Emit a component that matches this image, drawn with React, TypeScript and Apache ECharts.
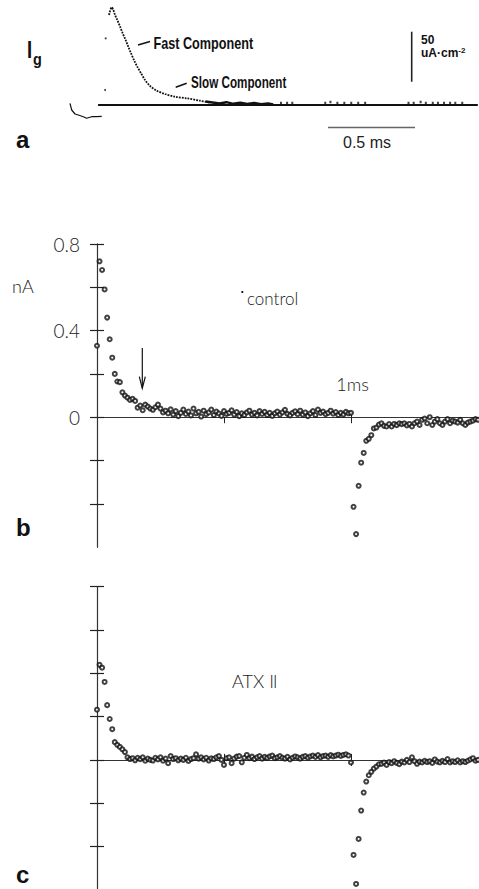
import React, { useEffect, useRef } from "react";
import * as echarts from "echarts";

// ---------- Panel a: gating current trace (t in ms, I in uA/cm2) ----------
const aPreT = [-0.202, -0.192, -0.173, -0.154, -0.125, -0.106, -0.077, -0.048, -0.019];
const aPreI = [1.7, -5, -9, -10, -11.7, -13.3, -11.7, -11.7, -11.3];
const aRiseT = [0.0, 0.004];
const aRiseI = [15, 66.7];
const aDecayT = [0.023, 0.039, 0.048, 0.058, 0.071, 0.087, 0.102, 0.119, 0.134, 0.15, 0.167, 0.186, 0.208, 0.231, 0.26, 0.298, 0.346, 0.404, 0.471, 0.548, 0.606];
const aDecayI = [90, 97.7, 95, 90, 85, 78.3, 71.7, 65, 58.3, 51.7, 45, 38.3, 31.7, 25, 19, 14.3, 11, 8.3, 6.7, 4.3, 2.3];
const aNoiseT = [0.58, 0.62, 0.66, 0.7, 0.74, 0.78, 0.82, 0.86, 0.9, 0.94, 0.97];
const aNoiseI = [3.5, 2.5, 1.5, 2.8, 1.2, 2.4, 1.0, 2.0, 0.8, 1.6, 0.5];
const aBumpT = [1.015, 1.05, 1.08, 1.27, 1.3, 1.34, 1.38, 1.42, 1.46, 1.5, 1.75, 1.78, 1.82, 1.85, 1.89, 1.92, 1.955, 1.99, 2.02, 2.06];
const aBumpI = [2, 2, 2, 2, 3, 2, 2, 2, 2, 2, 2, 2, 3, 2, 2, 2, 2, 2, 2, 2];
const aBaselineT = [-0.04, 2.15];
const aBaselineI = [0, 0];

// ---------- Panels b and c: sampled every 0.01 ms from 0 to 1.5 ms (nA) ----------
const SAMPLE_MS = 0.01;
const controlValues = [
  0.33, 0.72, 0.68, 0.59, 0.46, 0.36, 0.275, 0.2, 0.165, 0.162,
  0.115, 0.1, 0.09, 0.08, 0.085, 0.075, 0.044, 0.054, 0.032, 0.058,
  0.049, 0.04, 0.034, 0.046, 0.058, 0.04, 0.022, 0.03, 0.018, 0.036,
  0.012, 0.028, 0.005, 0.02, 0.035, 0.015, 0.026, 0.008, 0.04, 0.018,
  0.025, 0.003, 0.03, 0.014, 0.022, 0.035, 0.01, 0.026, 0.017, 0.006,
  0.028, 0.015, 0.02, 0.032, 0.012, 0.024, 0.005, 0.018, 0.01, 0.022,
  0.03, 0.012, 0.02, 0.008, 0.028, 0.015, 0.025, 0.01, 0.02, 0.006,
  0.018, 0.026, 0.012, 0.022, 0.034, 0.015, 0.008, 0.02, 0.027, 0.014,
  0.03, 0.012, 0.022, 0.005, 0.018, 0.028, 0.01, 0.035, 0.02, 0.026,
  0.014, 0.02, 0.03, 0.016, 0.024, 0.01, 0.02, 0.012, 0.025, 0.018,
  0.02, -0.414, -0.54, -0.317, -0.21, -0.165, -0.109, -0.1, -0.083, -0.052,
  -0.048, -0.034, -0.028, -0.04, -0.043, -0.032, -0.043, -0.031, -0.037, -0.028,
  -0.032, -0.028, -0.038, -0.031, -0.043, -0.028, -0.02, -0.036, -0.012, -0.006,
  -0.028, 0.0, -0.036, -0.02, -0.009, -0.028, -0.036, -0.02, -0.009, -0.028,
  -0.016, -0.02, -0.025, -0.012, -0.028, -0.036, -0.025, -0.02, -0.016, -0.009,
  -0.012,
];
const atxValues = [
  0.232, 0.439, 0.426, 0.36, 0.253, 0.189, 0.142, 0.082, 0.069, 0.06,
  0.049, 0.036, 0.012, 0.004, 0.008, -0.002, 0.01, 0.003, 0.012, -0.004,
  0.006, 0.0, -0.003, 0.01, 0.002, 0.012, -0.004, 0.006, -0.015, 0.018,
  0.004, 0.008, -0.002, 0.006, 0.0, 0.01, -0.005, 0.004, 0.008, 0.026,
  0.006, 0.012, 0.002, 0.01, -0.003, 0.007, 0.004, 0.012, 0.018, 0.0,
  -0.023, 0.008, 0.012, -0.015, 0.006, 0.015, 0.018, -0.011, 0.01, 0.023,
  0.008, 0.015, 0.004, 0.012, 0.018, 0.006, 0.014, 0.009, 0.016, 0.02,
  0.008, 0.012, 0.018, 0.01, 0.006, 0.014, 0.002, 0.01, 0.016, 0.012,
  0.006, 0.014, 0.018, 0.01, 0.016, 0.02, 0.014, 0.022, 0.012, 0.018,
  0.02, 0.014, 0.022, 0.016, 0.02, 0.024, 0.018, 0.023, 0.026, 0.02,
  -0.012, -0.439, -0.573, -0.365, -0.234, -0.151, -0.1, -0.071, -0.055, -0.04,
  -0.031, -0.02, -0.018, -0.012, -0.023, -0.01, -0.015, -0.006, -0.014, -0.02,
  -0.008, -0.012, 0.0, -0.01, 0.012, -0.006, -0.018, -0.008, -0.012, -0.004,
  -0.01, -0.006, -0.014, 0.002, -0.008, -0.012, -0.004, -0.01, 0.004, -0.012,
  -0.006, -0.01, -0.002, -0.012, -0.006, -0.01, -0.004, 0.002, 0.008, -0.004,
  0.0,
];

const yTickValues = [-0.4, -0.2, 0, 0.2, 0.4, 0.6, 0.8];
const yLabelValues = [0, 0.4, 0.8];
const xTickDownB = [0.5, 1.0];
const xTickUpB = [1.0];
const xTickDownC = [0.5, 1.0];
const xTickUpC = [0.5, 1.0];

const INK = "#111111";
const LABEL_INK = "#1a1a1a";
const BOLD16 = "bold 16px 'Liberation Sans', Arial, sans-serif";

const pairs = (xs: number[], ys: number[]) => xs.map((x, i) => [x, ys[i]]);
const sampled = (vals: number[]) => vals.map((v, i) => [Math.round(i * SAMPLE_MS * 1000) / 1000, v]);

function valueAxes(gridIndex: number, yTicks: number[], withLabels: boolean, xDown: number[], xUp: number[]) {
  const xBase = {
    type: "value",
    gridIndex,
    min: 0,
    max: 1.5,
    axisLabel: { show: false },
    splitLine: { show: false },
    axisLine: { show: true, onZero: true, lineStyle: { color: "#333", width: 1 } },
  };
  const yBase = {
    type: "value",
    gridIndex,
    min: -0.6,
    max: 0.8,
    interval: 0.2,
    splitLine: { show: false },
    axisLine: { show: true, onZero: true, lineStyle: { color: "#333", width: 1.1 } },
  };
  return {
    x: [
      { ...xBase, position: "bottom", axisTick: { show: true, length: 6, inside: false, customValues: xDown, lineStyle: { color: "#222", width: 1 } } },
      { ...xBase, position: "top", axisTick: { show: true, length: 6, inside: false, customValues: xUp, lineStyle: { color: "#222", width: 1 } } },
    ],
    y: [
      {
        ...yBase,
        position: "left",
        axisTick: { show: true, length: 7, inside: false, customValues: yTicks, lineStyle: { color: "#222", width: 1.2 } },
        axisLabel: withLabels
          ? {
              show: true,
              margin: 17,
              customValues: yLabelValues,
              color: LABEL_INK,
              fontFamily: "Lato, 'DejaVu Sans', sans-serif",
              fontWeight: 300,
              fontSize: 19,
              formatter: (v: number) => (v === 0 ? "0" : v.toFixed(1)),
            }
          : { show: false },
      },
      {
        ...yBase,
        position: "right",
        axisTick: { show: true, length: 7, inside: false, customValues: yTicks, lineStyle: { color: "#222", width: 1.2 } },
        axisLabel: { show: false },
      },
    ],
  };
}

export default function App() {
  const ref = useRef<HTMLDivElement>(null);

  useEffect(() => {
    if (!ref.current) return;
    const chart = echarts.init(ref.current, null, { renderer: "svg" });

    const axB = valueAxes(1, yTickValues, true, xTickDownB, xTickUpB);
    const axC = valueAxes(2, yTickValues, false, xTickDownC, xTickUpC);

    const circleStyle = { color: INK, borderWidth: 1 };

    const option: any = {
      animation: false,
      backgroundColor: "#ffffff",
      grid: [
        { left: 61.65, top: 5, width: 416.2, height: 120, containLabel: false, outerBoundsMode: "none" },
        { left: 97, top: 244, width: 381, height: 303.1, containLabel: false, outerBoundsMode: "none" },
        { left: 97, top: 586.7, width: 381, height: 303.1, containLabel: false, outerBoundsMode: "none" },
      ],
      xAxis: [
        { type: "value", gridIndex: 0, min: -0.25, max: 2.15, show: false },
        ...axB.x,
        ...axC.x,
      ],
      yAxis: [
        { type: "value", gridIndex: 0, min: -20, max: 100, show: false },
        ...axB.y,
        ...axC.y,
      ],
      series: [
        { type: "line", xAxisIndex: 0, yAxisIndex: 0, data: pairs(aBaselineT, aBaselineI), symbol: "none", lineStyle: { color: INK, width: 2.2 } },
        { type: "line", xAxisIndex: 0, yAxisIndex: 0, data: pairs(aPreT, aPreI), symbol: "none", lineStyle: { color: INK, width: 1.2 } },
        { type: "scatter", xAxisIndex: 0, yAxisIndex: 0, data: pairs(aRiseT, aRiseI), symbol: "circle", symbolSize: 2, itemStyle: { color: INK } },
        {
          type: "line",
          xAxisIndex: 0,
          yAxisIndex: 0,
          data: pairs(aDecayT, aDecayI),
          symbol: "none",
          smooth: 0.3,
          lineStyle: { color: INK, width: 1.8, type: [1.8, 1.1] },
        },
        { type: "line", xAxisIndex: 0, yAxisIndex: 0, data: pairs(aNoiseT, aNoiseI), symbol: "none", lineStyle: { color: INK, width: 2.4 } },
        { type: "scatter", xAxisIndex: 0, yAxisIndex: 0, data: pairs(aBumpT, aBumpI), symbol: "rect", symbolSize: [2, 2.5], itemStyle: { color: INK } },
        { type: "scatter", xAxisIndex: 1, yAxisIndex: 1, data: sampled(controlValues), symbol: "emptyCircle", symbolSize: 4, itemStyle: circleStyle },
        { type: "scatter", xAxisIndex: 3, yAxisIndex: 3, data: sampled(atxValues), symbol: "emptyCircle", symbolSize: 4, itemStyle: circleStyle },
      ],
      graphic: [
        // panel a annotations
        { type: "text", x: 27, y: 50, scaleX: 0.8, style: { text: "I", x: 0, y: 0, font: "bold 23px 'Liberation Sans', Arial, sans-serif", fill: INK, align: "left", verticalAlign: "middle" } },
        { type: "text", x: 33, y: 59, scaleX: 0.85, style: { text: "g", x: 0, y: 0, font: "bold 17px 'Liberation Sans', Arial, sans-serif", fill: INK, align: "left", verticalAlign: "middle" } },
        { type: "line", shape: { x1: 138, y1: 45, x2: 150, y2: 41.5 }, style: { stroke: INK, lineWidth: 1.5 } },
        { type: "text", x: 153.5, y: 43, scaleX: 0.79, style: { text: "Fast Component", x: 0, y: 0, font: BOLD16, fill: INK, align: "left", verticalAlign: "middle" } },
        { type: "line", shape: { x1: 175.7, y1: 87.3, x2: 186.7, y2: 83.3 }, style: { stroke: INK, lineWidth: 1.5 } },
        { type: "text", x: 191, y: 82, scaleX: 0.73, style: { text: "Slow Component", x: 0, y: 0, font: BOLD16, fill: INK, align: "left", verticalAlign: "middle" } },
        { type: "line", shape: { x1: 411.7, y1: 31.7, x2: 411.7, y2: 81.7 }, style: { stroke: "#222", lineWidth: 1.6 } },
        { type: "text", style: { text: "50", x: 421, y: 40, font: "bold 12px 'Liberation Sans', Arial, sans-serif", fill: INK, align: "left", verticalAlign: "middle" } },
        {
          type: "text",
          style: {
            text: "{u|uA·cm}{s|-2}",
            x: 421,
            y: 53,
            align: "left",
            verticalAlign: "middle",
            rich: {
              u: { font: "bold 12px 'Liberation Sans', Arial, sans-serif", fill: INK },
              s: { font: "bold 8px 'Liberation Sans', Arial, sans-serif", fill: INK, padding: [0, 0, 6, 0] },
            },
          },
        },
        { type: "line", shape: { x1: 328, y1: 127.5, x2: 415, y2: 127.5 }, style: { stroke: "#666", lineWidth: 1.4 } },
        { type: "text", style: { text: "0.5 ms", x: 343, y: 142.5, font: "16px 'Liberation Sans', Arial, sans-serif", fill: "#222", align: "left", verticalAlign: "middle" } },
        { type: "text", style: { text: "a", x: 16, y: 139, font: "bold 24px 'Liberation Sans', Arial, sans-serif", fill: INK, align: "left", verticalAlign: "middle" } },
        // panel b annotations
        { type: "text", style: { text: "nA", x: 12, y: 286, font: "300 18px Lato, 'DejaVu Sans', sans-serif", fill: LABEL_INK, align: "left", verticalAlign: "middle" } },
        { type: "circle", shape: { cx: 242.3, cy: 292, r: 1.1 }, style: { fill: INK } },
        { type: "text", style: { text: "control", x: 247, y: 298, font: "300 17px Lato, 'DejaVu Sans', sans-serif", fill: LABEL_INK, align: "left", verticalAlign: "middle" } },
        { type: "text", style: { text: "1ms", x: 352.5, y: 383.5, font: "300 18px Lato, 'DejaVu Sans', sans-serif", fill: LABEL_INK, align: "center", verticalAlign: "middle" } },
        { type: "polyline", shape: { points: [[142.3, 348], [142.3, 388]] }, style: { stroke: INK, lineWidth: 1.2, fill: "none" } },
        { type: "polyline", shape: { points: [[139.3, 376.7], [142.3, 388.3], [145.3, 376.7]] }, style: { stroke: INK, lineWidth: 1.2, fill: "none" } },
        { type: "text", style: { text: "b", x: 16, y: 527, font: "bold 24px 'Liberation Sans', Arial, sans-serif", fill: INK, align: "left", verticalAlign: "middle" } },
        // panel c annotations
        { type: "text", style: { text: "ATX Ⅱ", x: 232, y: 681, font: "300 18px Lato, 'DejaVu Sans', sans-serif", fill: LABEL_INK, align: "left", verticalAlign: "middle" } },
        { type: "text", style: { text: "c", x: 16, y: 874, font: "bold 24px 'Liberation Sans', Arial, sans-serif", fill: INK, align: "left", verticalAlign: "middle" } },
      ],
    };

    chart.setOption(option);
    return () => chart.dispose();
  }, []);

  return (
    <div
      ref={ref}
      style={{ position: "fixed", left: 0, top: 0, width: 479, height: 889, background: "#fff" }}
    />
  );
}
